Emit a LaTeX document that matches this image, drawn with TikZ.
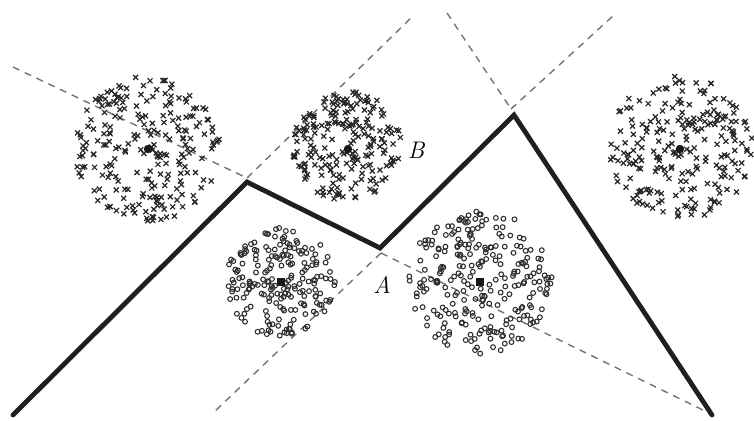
\documentclass[tikz,border=0pt]{standalone}
\begin{document}
\begin{tikzpicture}[x=1pt,y=-1pt,
  boundary/.style={line width=4.8pt, line join=miter, line cap=round, black!88},
  bisector/.style={line width=1.4pt, black!55, dash pattern=on 7pt off 6pt},
  xm/.style={line width=1.2pt, black!85},
  om/.style={line width=1.05pt, black!82},
  lbl/.style={font=\fontsize{24}{24}\selectfont\itshape, inner sep=0pt}]
\useasboundingbox[fill=white] (0,0) rectangle (754,420);
\pgfmathsetseed{4711}
\newcommand\XClusterPts[4]{%
  \foreach \k in {1,...,#4}{%
    \pgfmathsetmacro\rr{#3*sqrt(rnd)}%
    \pgfmathsetmacro\aa{360*rnd}%
    \draw[xm,shift={(#1,#2)}] (\aa:\rr) +(-2.5,-2.5) -- +(2.5,2.5) (\aa:\rr) +(-2.5,2.5) -- +(2.5,-2.5);
  }}
\newcommand\OClusterPts[4]{%
  \foreach \k in {1,...,#4}{%
    \pgfmathsetmacro\rr{#3*sqrt(rnd)}%
    \pgfmathsetmacro\aa{360*rnd}%
    \draw[om,shift={(#1,#2)}] (\aa:\rr) circle[radius=2.4pt];
  }}
% boundary vertices
\coordinate (P0) at (13,415);
\coordinate (P1) at (247,182);
\coordinate (P2) at (380,248);
\coordinate (P3) at (514,115);
\coordinate (P4) at (712,415);
% bisector meeting points and free ends
\coordinate (V1) at (247,178);
\coordinate (V2) at (381,253);
\coordinate (V3) at (511,109);
\coordinate (D1) at (13,67);
\coordinate (D2) at (414,15);
\coordinate (D3) at (447,13);
\coordinate (D4) at (614,15);
\coordinate (D5) at (212,414);
\coordinate (D6) at (705,411);
% dashed bisectors
\draw[bisector] (D1) -- (V1);
\draw[bisector] (V1) -- (D2);
\draw[bisector] (D3) -- (V3);
\draw[bisector] (V3) -- (D4);
\draw[bisector] (V2) -- (D5);
\draw[bisector] (V2) -- (D6);
% clusters
\XClusterPts{148}{149}{73}{230}
\XClusterPts{347}{146}{55}{210}
\XClusterPts{680}{149}{73}{230}
\OClusterPts{281}{282}{55}{200}
\OClusterPts{480}{282}{72}{260}
% cluster centres
\fill[black!90] (148,149) circle[radius=4.2pt];
\fill[black!90] (348,149) circle[radius=4.2pt];
\fill[black!90] (680,149) circle[radius=4.2pt];
\fill[black!90] (277,278) rectangle (285,286);
\fill[black!90] (476,278) rectangle (484,286);
% boundary
\draw[boundary] (P0) -- (P1) -- (P2) -- (P3) -- (P4);
% labels
\node[lbl] (B) at (416,150) {B};
\node[lbl] (A) at (382,285) {A};
\end{tikzpicture}
\end{document}
